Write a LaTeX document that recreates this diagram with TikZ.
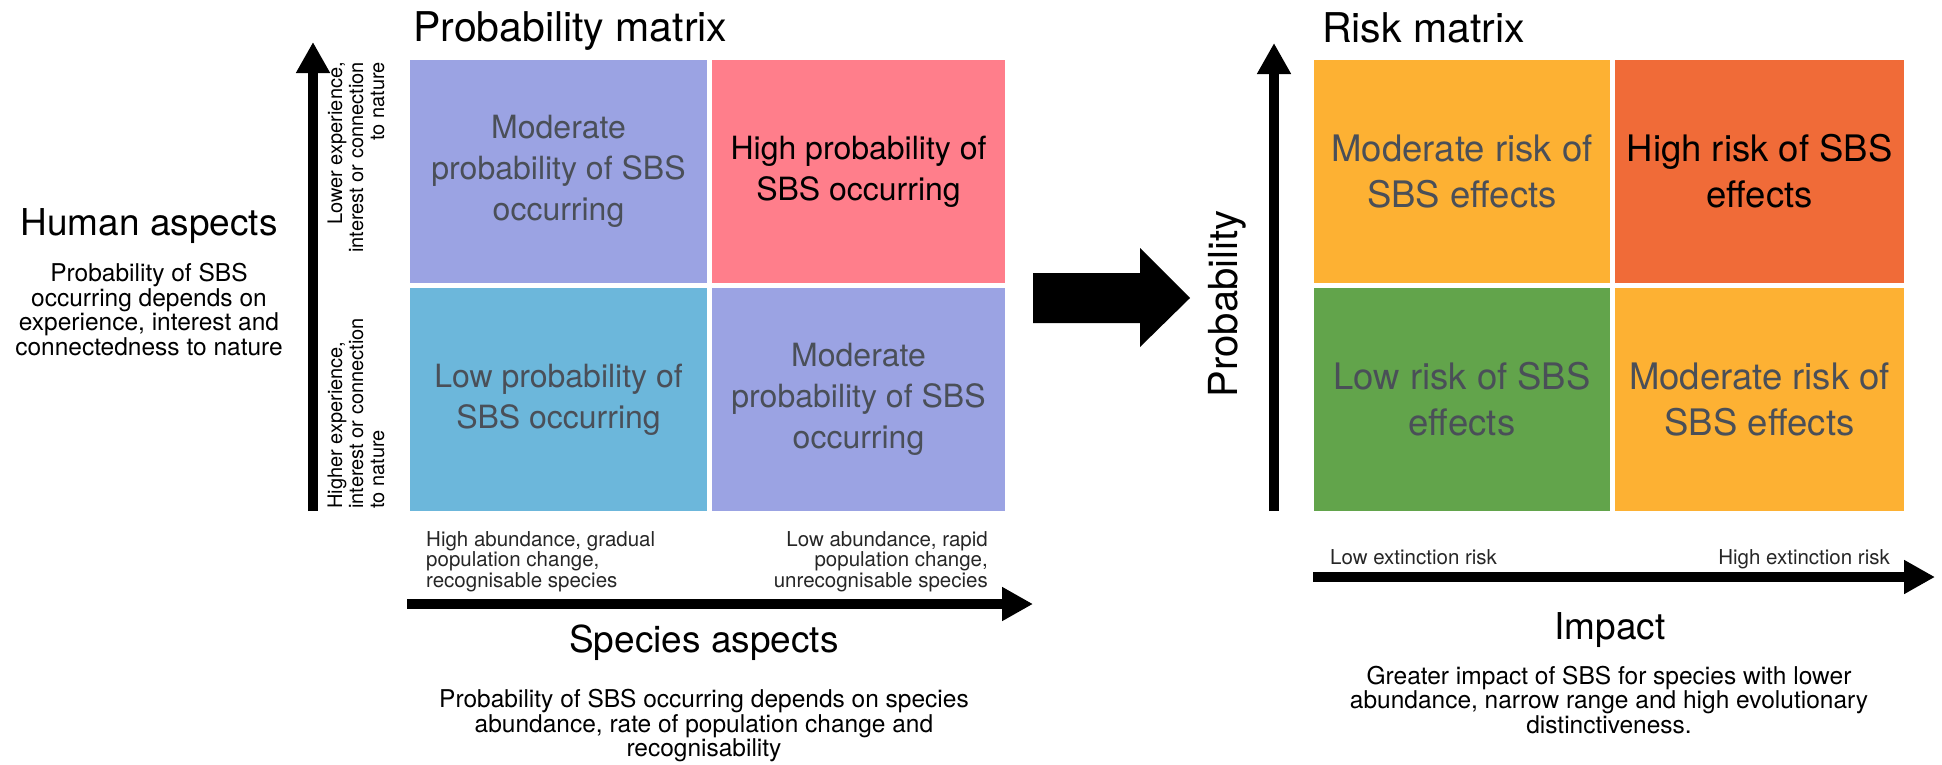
\documentclass[tikz,border=0pt]{standalone}
\usepackage{fontspec}
\setmainfont{TeX Gyre Heros}
\usetikzlibrary{arrows.meta}
\definecolor{lav}{HTML}{9BA3E3}
\definecolor{pnk}{HTML}{FF7E8B}
\definecolor{blu}{HTML}{6CB7DB}
\definecolor{org}{HTML}{FDB133}
\definecolor{rorg}{HTML}{F06B38}
\definecolor{grn}{HTML}{62A44B}
\definecolor{txt}{HTML}{4A4F58}
\begin{document}
\begin{tikzpicture}[x=1pt, y=-1pt, line join=round, inner sep=0pt,
ttl/.style={font=\fontsize{41}{45}\selectfont},
lbl/.style={font=\fontsize{37}{40}\selectfont},
dsc/.style={align=center, font=\fontsize{24.5}{24.5}\selectfont},
sml/.style={font=\fontsize{20.5}{20.5}\selectfont, text=black!85},
rot/.style={rotate=90, font=\fontsize{20}{21}\selectfont},
pcell/.style={align=center, text=txt, minimum height=223pt, font=\fontsize{32}{41}\selectfont},
rcell/.style={align=center, text=txt, minimum height=223pt, font=\fontsize{36.5}{46}\selectfont},
axis/.style={line width=10pt, -{Triangle[length=31pt,width=32pt]}}]
\path[use as bounding box] (0,0) rectangle (1942,764);
\def\ra{171.5} \def\rb{399.5}
% probability matrix
\node[ttl, anchor=base west] (pm) at (413,41) {Probability matrix};
\node[pcell, fill=lav, minimum width=297pt] (pTL) at (558.5,\ra) {Moderate\\probability of SBS\\occurring};
\node[pcell, fill=pnk, minimum width=293pt, text=black] (pTR) at (858.5,\ra) {High probability of\\SBS occurring};
\node[pcell, fill=blu, minimum width=297pt] (pBL) at (558.5,\rb) {Low probability of\\SBS occurring};
\node[pcell, fill=lav, minimum width=293pt] (pBR) at (858.5,\rb) {Moderate\\probability of SBS\\occurring};
\coordinate (hy0) at (313,511); \coordinate (hy1) at (313,42);
\coordinate (sx0) at (407,604); \coordinate (sx1) at (1033,604);
\draw[axis] (hy0) -- (hy1);
\draw[axis] (sx0) -- (sx1);
\node[rot, anchor=east, align=right] (lo) at (356,62) {Lower experience,\\interest or connection\\to nature};
\node[rot, anchor=west, align=left] (hi) at (356,509) {Higher experience,\\interest or connection\\to nature};
\node[lbl, anchor=base] (ha) at (149,235) {Human aspects};
\node[dsc, anchor=north] (hd) at (149,263) {Probability of SBS\\occurring depends on\\experience, interest and\\connectedness to nature};
\node[sml, anchor=north west, align=left] (sl) at (426,531) {High abundance, gradual\\population change,\\recognisable species};
\node[sml, anchor=north east, align=right] (sr) at (988,531) {Low abundance, rapid\\population change,\\unrecognisable species};
\node[lbl, anchor=base] (sa) at (704,652) {Species aspects};
\node[dsc, anchor=north] (sd) at (704,689) {Probability of SBS occurring depends on species\\abundance, rate of population change and\\recognisability};
% big arrow
\fill (1033,273) -- (1140,273) -- (1140,248) -- (1190,298) -- (1140,347) -- (1140,323) -- (1033,323) -- cycle;
% risk matrix
\node[ttl, anchor=base west] (rm) at (1322,42) {Risk matrix};
\node[rcell, fill=org, minimum width=296pt] (rTL) at (1462,\ra) {Moderate risk of\\SBS effects};
\node[rcell, fill=rorg, minimum width=289pt, text=black] (rTR) at (1759.5,\ra) {High risk of SBS\\effects};
\node[rcell, fill=grn, minimum width=296pt] (rBL) at (1462,\rb) {Low risk of SBS\\effects};
\node[rcell, fill=org, minimum width=289pt] (rBR) at (1759.5,\rb) {Moderate risk of\\SBS effects};
\coordinate (py0) at (1274,511); \coordinate (py1) at (1274,43);
\coordinate (ix0) at (1313,577); \coordinate (ix1) at (1935,577);
\draw[axis] (py0) -- (py1);
\draw[axis] (ix0) -- (ix1);
\node[rotate=90, anchor=base, font=\fontsize{40}{44}\selectfont] (pr) at (1237,304) {Probability};
\node[sml, anchor=base west] (le) at (1330,564) {Low extinction risk};
\node[sml, anchor=base east] (he) at (1890,564) {High extinction risk};
\node[lbl, anchor=base] (im) at (1610,639) {Impact};
\node[dsc, anchor=north] (id) at (1609,665.5) {Greater impact of SBS for species with lower\\abundance, narrow range and high evolutionary\\distinctiveness.};
\end{tikzpicture}
\end{document}
